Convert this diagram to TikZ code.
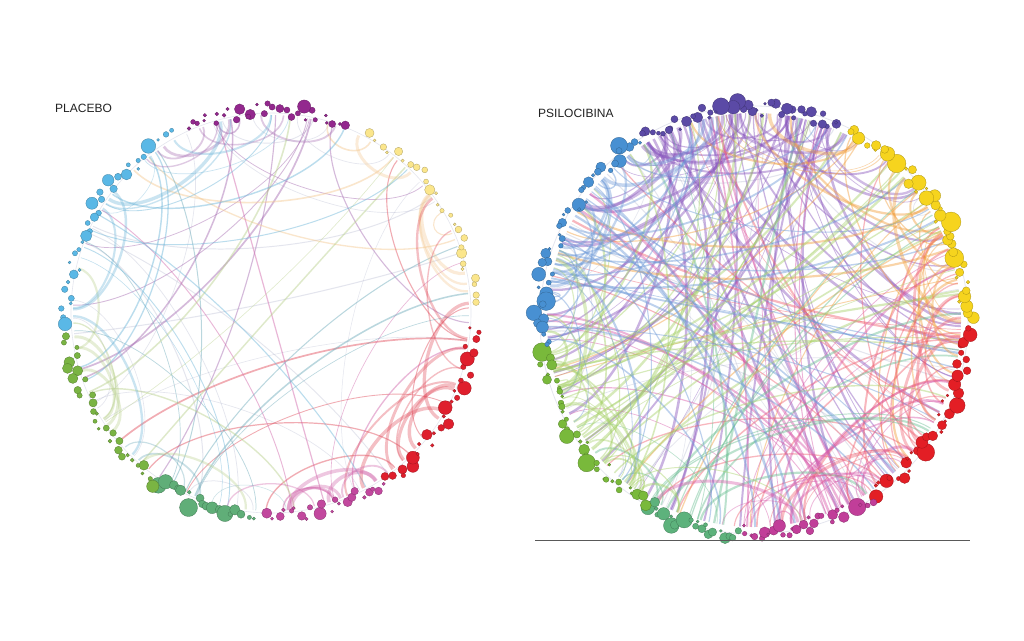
\documentclass[tikz,border=0pt]{standalone}
\usepackage{fontspec}
\setmainfont{Liberation Sans}
\definecolor{pmag}{HTML}{93288E}
\definecolor{pyel}{HTML}{FBE68C}
\definecolor{pred}{HTML}{DF1F2D}
\definecolor{ppink}{HTML}{C2489E}
\definecolor{pteal}{HTML}{60AE78}
\definecolor{pgrn}{HTML}{7AB443}
\definecolor{pblue}{HTML}{5AB8E6}
\definecolor{emag}{HTML}{A468B0}
\definecolor{eyel}{HTML}{F4C890}
\definecolor{ered}{HTML}{E04858}
\definecolor{epink}{HTML}{D060A8}
\definecolor{eteal}{HTML}{68A8B8}
\definecolor{egrn}{HTML}{B8D08A}
\definecolor{eblue}{HTML}{6AB4D8}
\definecolor{egray}{HTML}{A8ACC8}
\definecolor{sind}{HTML}{5B4AA6}
\definecolor{syel}{HTML}{F6D41E}
\definecolor{sred}{HTML}{E31E25}
\definecolor{smag}{HTML}{C13E99}
\definecolor{steal}{HTML}{5DB27C}
\definecolor{sgrn}{HTML}{79B93B}
\definecolor{sblu}{HTML}{4890D2}
\definecolor{fvio}{HTML}{8A58BE}
\definecolor{forg}{HTML}{F2A040}
\definecolor{fred}{HTML}{F06070}
\definecolor{fmag}{HTML}{D85AAA}
\definecolor{fteal}{HTML}{6CC094}
\definecolor{fgrn}{HTML}{A8D26A}
\definecolor{fblu}{HTML}{6E9AD8}
\definecolor{txt}{HTML}{222222}
% dots: cx cy R a1 a2 color n sizescale
\newcommand\grpdots[8]{%
  \foreach \i in {1,...,#7}{%
    \pgfmathsetmacro\ang{#4+(#5-#4)*(\i-0.5)/#7+(rnd-0.5)*1.2}%
    \pgfmathsetmacro\rr{1.4+#8*rnd*rnd}%
    \pgfmathsetmacro\rad{#3+(rnd-0.6)*14+0.5*\rr}%
    \filldraw[fill=#6, draw=#6!70!black, line width=0.3pt]
      ({#1+\rad*cos(\ang)},{#2+\rad*sin(\ang)}) circle[radius=\rr pt];%
  }%
}
% edges: cx cy R a1 a2 color n spread(0=global) maxwidth
\newcommand\grpedges[9]{%
  \foreach \i in {1,...,#7}{%
    \pgfmathsetmacro\aa{#4+(#5-#4)*rnd}%
    \pgfmathsetmacro\ra{rnd}%
    \pgfmathsetmacro\sg{(rnd<0.5) ? -1 : 1}%
    \pgfmathsetmacro\bb{(#8==0) ? \ra*360 : \aa+\sg*(0.4+0.6*\ra)*#8}%
    \pgfmathsetmacro\dd{180-abs(mod(\bb-\aa+720,360)-180)}%
    \pgfmathsetmacro\kk{0.93-0.6*\dd/180}%
    \pgfmathsetmacro\ww{0.5+#9*rnd}%
    \pgfmathsetmacro\rq{#3-5}%
    \draw[#6, line width=\ww pt]
      ({#1+\rq*cos(\aa)},{#2+\rq*sin(\aa)}) .. controls
      ({#1+\kk*\rq*cos(\aa)},{#2+\kk*\rq*sin(\aa)}) and
      ({#1+\kk*\rq*cos(\bb)},{#2+\kk*\rq*sin(\bb)}) ..
      ({#1+\rq*cos(\bb)},{#2+\rq*sin(\bb)});%
  }%
}
\begin{document}
\begin{tikzpicture}[x=1pt,y=1pt]
\pgfmathsetseed{2024}
\fill[white] (0,0) rectangle (1024,640);
\useasboundingbox (0,0) rectangle (1024,640);
% ---------------- PLACEBO ----------------
\node[anchor=west, inner sep=0, font=\fontsize{12}{14}\selectfont, text=txt] (t1) at (55,532) {PLACEBO};
\begin{scope}[opacity=0.3]
  \draw[egray, line width=0.6pt] (271,327) circle[radius=200pt];
  \grpedges{271}{327}{203}{0}{360}{egray}{16}{0}{0.6}
\end{scope}
\begin{scope}[opacity=0.45]
  \grpedges{271}{327}{203}{68}{115}{emag}{8}{0}{1.2}
  \grpedges{271}{327}{203}{2}{62}{eyel}{4}{0}{1.2}
  \grpedges{271}{327}{203}{304}{357}{ered}{6}{0}{1.2}
  \grpedges{271}{327}{203}{268}{304}{epink}{5}{0}{1.2}
  \grpedges{271}{327}{203}{236}{266}{eteal}{6}{0}{1.2}
  \grpedges{271}{327}{203}{186}{236}{egrn}{5}{0}{1.2}
  \grpedges{271}{327}{203}{118}{184}{eblue}{8}{0}{1.2}
\end{scope}
\begin{scope}[opacity=0.35]
  \grpedges{271}{327}{203}{68}{115}{emag}{5}{35}{3}
  \grpedges{271}{327}{203}{2}{62}{eyel}{4}{45}{3}
  \grpedges{271}{327}{203}{304}{357}{ered}{9}{50}{3}
  \grpedges{271}{327}{203}{272}{300}{epink}{6}{30}{3.5}
  \grpedges{271}{327}{203}{236}{266}{eteal}{3}{30}{3}
  \grpedges{271}{327}{203}{186}{236}{egrn}{5}{40}{3}
  \grpedges{271}{327}{203}{118}{184}{eblue}{8}{45}{3.5}
\end{scope}
\grpdots{271}{327}{203}{68}{115}{pmag}{30}{8}
\grpdots{271}{327}{203}{2}{62}{pyel}{26}{7}
\grpdots{271}{327}{203}{304}{357}{pred}{28}{7}
\grpdots{271}{327}{203}{268}{304}{ppink}{22}{6}
\grpdots{271}{327}{203}{236}{266}{pteal}{18}{9}
\grpdots{271}{327}{203}{186}{236}{pgrn}{30}{7}
\grpdots{271}{327}{203}{118}{184}{pblue}{34}{7}
% ---------------- PSILOCIBINA ----------------
\node[anchor=west, inner sep=0, font=\fontsize{12}{14}\selectfont, text=txt] (t2) at (538,527) {PSILOCIBINA};
\begin{scope}[opacity=0.3]
  \draw[egray, line width=0.8pt] (754,320) circle[radius=214pt];
  \grpedges{754}{320}{212}{0}{360}{egray}{20}{0}{0.6}
\end{scope}
\begin{scope}[opacity=0.45]
  \grpedges{754}{320}{212}{66}{122}{fvio}{55}{0}{2.2}
  \grpedges{754}{320}{212}{0}{64}{forg}{20}{0}{1.8}
  \grpedges{754}{320}{212}{304}{358}{fred}{20}{0}{1.8}
  \grpedges{754}{320}{212}{266}{304}{fmag}{25}{0}{2}
  \grpedges{754}{320}{212}{240}{266}{fteal}{15}{0}{1.8}
  \grpedges{754}{320}{212}{188}{240}{fgrn}{40}{0}{2}
  \grpedges{754}{320}{212}{122}{188}{fblu}{35}{0}{1.8}
\end{scope}
\begin{scope}[opacity=0.4]
  \grpedges{754}{320}{212}{66}{122}{fvio}{8}{50}{3}
  \grpedges{754}{320}{212}{0}{64}{forg}{8}{55}{3}
  \grpedges{754}{320}{212}{304}{358}{fred}{8}{55}{3}
  \grpedges{754}{320}{212}{266}{304}{fmag}{8}{50}{3}
  \grpedges{754}{320}{212}{188}{240}{fgrn}{6}{45}{3}
  \grpedges{754}{320}{212}{122}{188}{fblu}{8}{50}{3}
\end{scope}
\grpdots{754}{320}{212}{66}{122}{sind}{42}{9}
\grpdots{754}{320}{212}{0}{64}{syel}{42}{9}
\grpdots{754}{320}{212}{304}{358}{sred}{36}{9}
\grpdots{754}{320}{212}{266}{304}{smag}{30}{8}
\grpdots{754}{320}{212}{240}{266}{steal}{22}{8}
\grpdots{754}{320}{212}{188}{240}{sgrn}{36}{9}
\grpdots{754}{320}{212}{122}{188}{sblu}{42}{8}
\coordinate (l1) at (535,100);
\coordinate (l2) at (970,100);
\draw[black!65, line width=0.8pt] (l1) -- (l2);
\end{tikzpicture}
\end{document}
